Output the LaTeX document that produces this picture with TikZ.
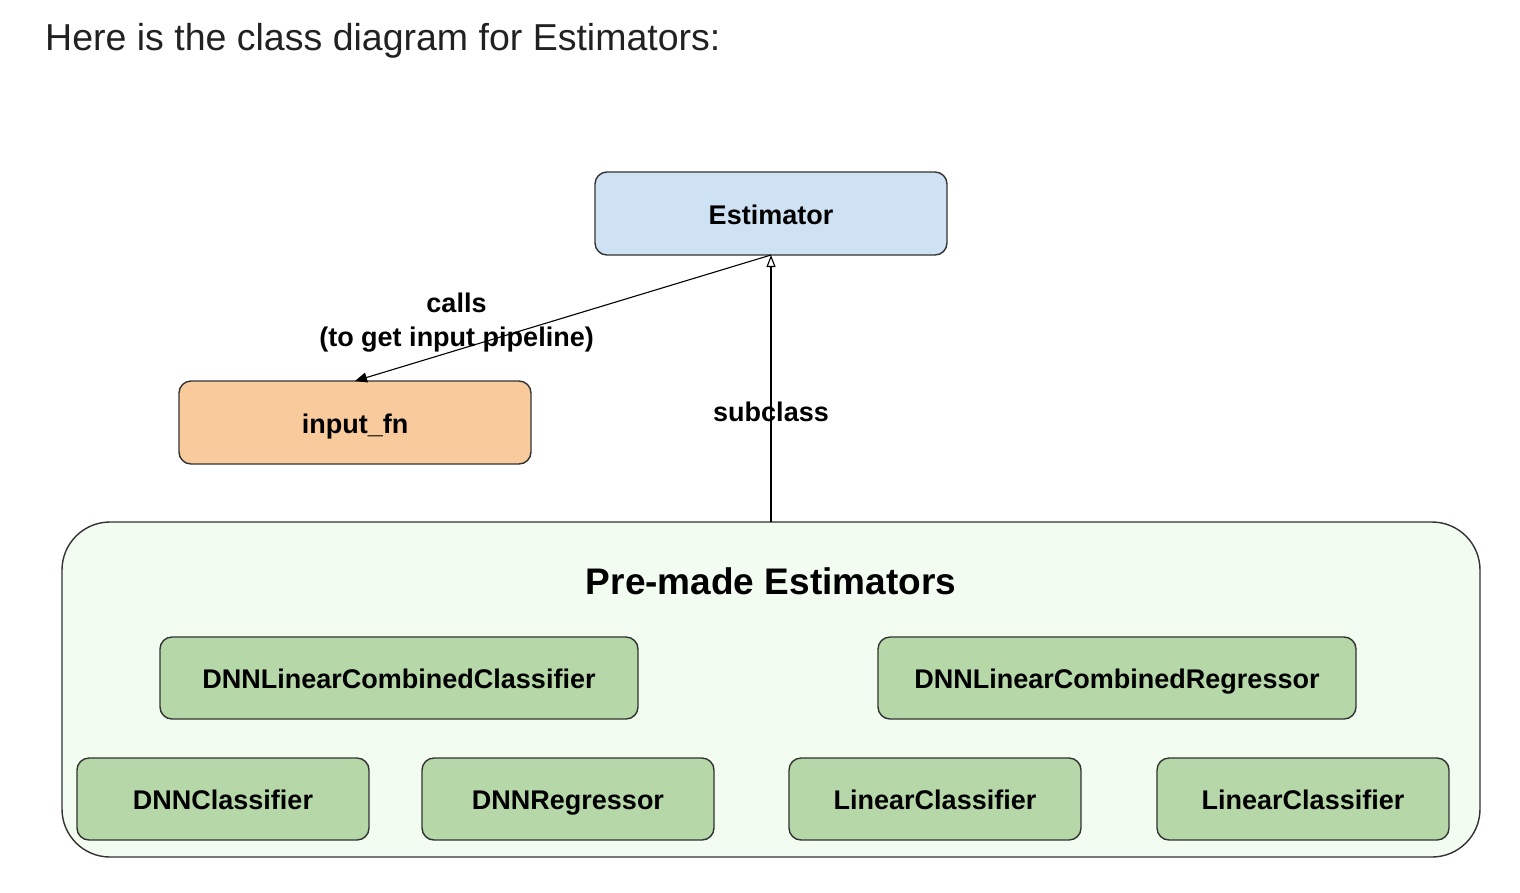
\documentclass[tikz,border=0pt]{standalone}
\usepackage{fontspec}
\setmainfont{Liberation Sans}
\usetikzlibrary{arrows.meta}
\definecolor{estblue}{HTML}{CFE2F3}
\definecolor{inporange}{HTML}{F9CB9C}
\definecolor{boxgreen}{HTML}{B6D7A8}
\definecolor{outergreen}{HTML}{F2FCF1}
\definecolor{edgegray}{HTML}{333333}
\definecolor{titlegray}{HTML}{212121}
\tikzset{
  classbox/.style={draw=edgegray, line width=1.4pt, rounded corners=12pt,
    inner sep=0pt, outer sep=0pt, align=center, text height=23pt, text depth=2pt,
    font=\bfseries\fontsize{27}{32}\selectfont},
  bigbox/.style={classbox, minimum width=352pt, minimum height=83pt},
  widebox/.style={classbox, fill=boxgreen, minimum width=478pt, minimum height=82pt},
  smallbox/.style={classbox, fill=boxgreen, minimum width=292pt, minimum height=82pt},
  conn/.style={draw=black, line width=1.1pt},
  lbl/.style={font=\bfseries\fontsize{27}{34}\selectfont, align=center, inner sep=0pt}
}
\begin{document}
\begin{tikzpicture}[x=1pt,y=-1pt]
\useasboundingbox (0,0) rectangle (1520,892);
\node[anchor=base west, inner sep=0pt, text=titlegray, font=\fontsize{37.5}{44}\selectfont] (title) at (45,50) {Here is the class diagram for Estimators:};

\node[draw=edgegray, line width=1.4pt, rounded corners=48pt, fill=outergreen,
  minimum width=1418pt, minimum height=335pt, inner sep=0pt, outer sep=0pt] (outer) at (771,689.5) {};
\node[anchor=base, inner sep=0pt, font=\bfseries\fontsize{37}{44}\selectfont] (premade) at (771,594) {Pre-made Estimators};

\node[bigbox, fill=estblue] (est) at (771,213.5) {Estimator};
\node[bigbox, fill=inporange] (inp) at (355,422.5) {input\_fn};

\node[widebox] (dlcc) at (399,678) {DNNLinearCombinedClassifier};
\node[widebox] (dlcr) at (1117,678) {DNNLinearCombinedRegressor};
\node[smallbox] (dnnc) at (223,799) {DNNClassifier};
\node[smallbox] (dnnr) at (568,799) {DNNRegressor};
\node[smallbox] (linc) at (935,799) {LinearClassifier};
\node[smallbox] (linc2) at (1303,799) {LinearClassifier};

\draw[conn, -{Triangle[length=12pt,width=10pt]}] (est.south) -- node[lbl, pos=0.756, yshift=28pt] (callslbl) {calls\\(to get input pipeline)} (inp.north);
\draw[conn, -{Triangle[open,length=12pt,width=9pt,line width=1.1pt]}] (outer.north) -- node[lbl, pos=0.412] (sublbl) {subclass} (est.south);
\end{tikzpicture}
\end{document}
